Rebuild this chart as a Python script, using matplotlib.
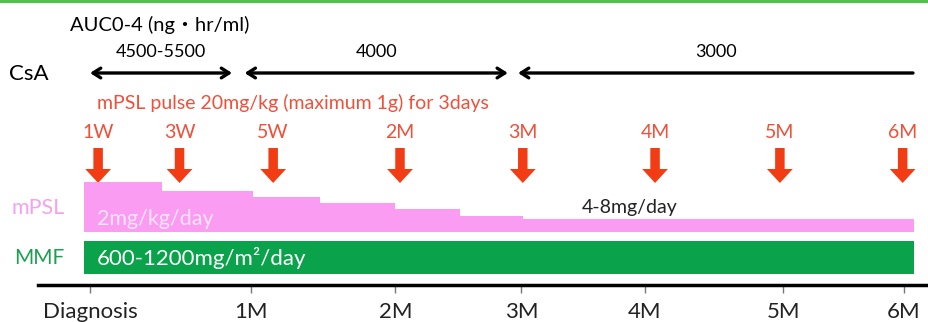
"""Treatment timeline schematic: CsA targets, mPSL pulses and taper, MMF."""

import matplotlib.pyplot as plt

plt.rcParams["font.family"] = ["Lato", "Noto Sans CJK JP", "DejaVu Sans"]

# timeline positions are in "drawing months" (Diagnosis = 0, 6M = 6)
timeline_labels = ["Diagnosis", "1M", "2M", "3M", "4M", "5M", "6M"]
timeline_pos = [0, 1.19, 2.25, 3.18, 4.09, 5.11, 6.0]

# CsA target AUC ranges
csa_labels = ["4500-5500", "4000", "3000"]
csa_start = [0.0, 1.14, 3.155]
csa_end = [1.047, 3.08, 6.066]

# mPSL pulse times
pulse_labels = ["1W", "3W", "5W", "2M", "3M", "4M", "5M", "6M"]
pulse_pos = [0.06, 0.66, 1.35, 2.285, 3.19, 4.165, 5.085, 5.99]

# mPSL maintenance taper (relative step heights)
mpsl_edges = [-0.045, 0.53, 1.20, 1.695, 2.25, 2.73, 3.19, 6.07]
mpsl_level = [50, 41, 35, 29, 23, 16, 13]

# MMF span
mmf_span = (-0.045, 6.07)

RED_TXT = "#f0503a"
RED_ARROW = "#f23c14"
PINK = "#f99cf2"
GREEN = "#0aa24a"

fig = plt.figure(figsize=(9.29, 3.22), dpi=100)
ax = fig.add_axes([0, 0, 1, 1])
ax.set_xlim(-90 / 135.67, (929 - 90) / 135.67)
ax.set_ylim(322, 0)

# top frame line
ax.axhline(1, color="#52c24c", lw=3)

# CsA
ax.text(0.51, 25, "AUC0-4 (ng・hr/ml)", ha="center", va="center", fontsize=14.5)
ax.text(-0.6, 74, "CsA", ha="left", va="center", fontsize=16)
for lab, s, e in zip(csa_labels, csa_start, csa_end):
    style = "->" if lab == "3000" else "<->"
    ax.annotate("", xy=(s, 73), xytext=(e, 73),
                arrowprops=dict(arrowstyle=style + ",head_length=0.55,head_width=0.35",
                                lw=2.4, color="black", shrinkA=0, shrinkB=0))
    ax.text((s + e) / 2, 52, lab, ha="center", va="center", fontsize=13)

# mPSL pulses
ax.text(0.05, 103, "mPSL pulse 20mg/kg (maximum 1g) for 3days",
        ha="left", va="center", fontsize=14, color=RED_TXT)
for lab, x in zip(pulse_labels, pulse_pos):
    ax.text(x, 132, lab, ha="center", va="center", fontsize=14, color=RED_TXT)
    ax.arrow(x, 148, 0, 35, width=0.07, head_width=0.19, head_length=14,
             length_includes_head=True, color=RED_ARROW, lw=0)

# mPSL taper
ax.stairs([232 - h for h in mpsl_level], mpsl_edges, baseline=232,
          fill=True, color=PINK, lw=0)
ax.text(-0.58, 208, "mPSL", ha="left", va="center", fontsize=15.5, color="#f3a3ee")
ax.text(0.05, 219, "2mg/kg/day", ha="left", va="center", fontsize=15.5,
        color="#fde4fb")
ax.text(3.98, 207, "4-8mg/day", ha="center", va="center", fontsize=14,
        color="#222222")

# MMF
ax.barh(257, mmf_span[1] - mmf_span[0], left=mmf_span[0], height=33,
        color=GREEN, lw=0)
ax.text(-0.56, 258, "MMF", ha="left", va="center", fontsize=15, color="#1aa050")
ax.text(0.05, 258, "600-1200mg/m²/day", ha="left", va="center", fontsize=16,
        color="white")

# time axis
for side in ["top", "left", "right"]:
    ax.spines[side].set_visible(False)
ax.spines["bottom"].set_position(("data", 285))
ax.spines["bottom"].set_bounds(-0.385, 6.2)
ax.spines["bottom"].set_linewidth(2.5)
ax.set_yticks([])
ax.set_xticks(timeline_pos, timeline_labels, fontsize=16, color="#222222")
ax.tick_params(axis="x", direction="out", length=6, width=1, color="#777777",
               pad=6)

fig.savefig("out.png", dpi=100)
